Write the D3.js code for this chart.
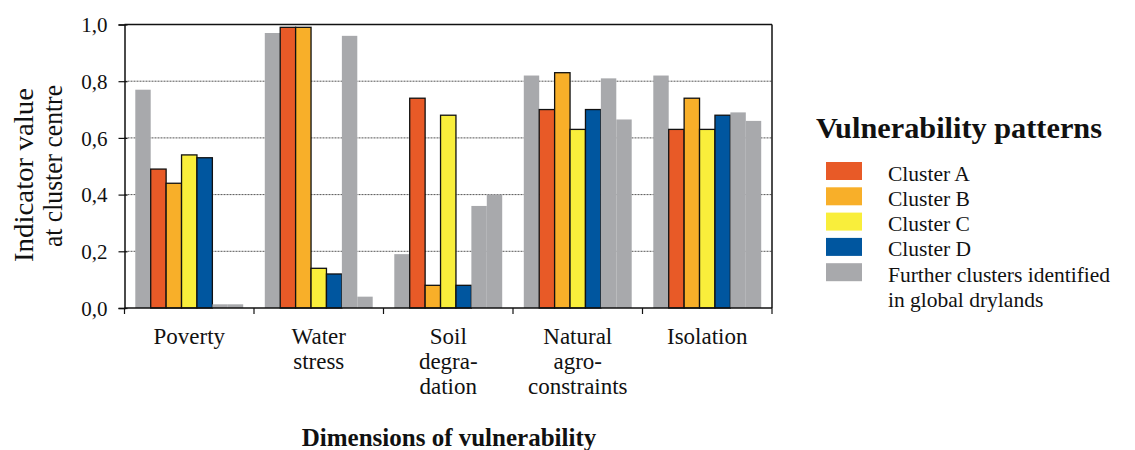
<!DOCTYPE html>
<html>
<head>
<meta charset="utf-8">
<script src="https://cdn.jsdelivr.net/npm/d3@7"></script>
<style>
  html, body { margin: 0; padding: 0; background: #fff; }
  svg { display: block; }
  text { font-family: "Liberation Serif", "Times New Roman", serif; fill: #111; }
</style>
</head>
<body>
<svg id="chart" width="1135" height="450"></svg>
<script>
// ---- data ----
const categories = [["Poverty"], ["Water", "stress"], ["Soil", "degra-", "dation"], ["Natural", "agro-", "constraints"], ["Isolation"]];
const seriesKeys = ["further1", "clusterA", "clusterB", "clusterC", "clusterD", "further2", "further3"];
const further1 = [0.77, 0.97, 0.19, 0.82, 0.82];
const clusterA = [0.49, 0.99, 0.74, 0.70, 0.63];
const clusterB = [0.44, 0.99, 0.08, 0.83, 0.74];
const clusterC = [0.54, 0.14, 0.68, 0.63, 0.63];
const clusterD = [0.53, 0.12, 0.08, 0.70, 0.68];
const further2 = [0.013, 0.96, 0.36, 0.81, 0.69];
const further3 = [0.013, 0.04, 0.40, 0.665, 0.66];
const yTicks = [0, 0.2, 0.4, 0.6, 0.8, 1.0];
const legendLabels = [["Cluster A"], ["Cluster B"], ["Cluster C"], ["Cluster D"], ["Further clusters identified", "in global drylands"]];

const values = { further1, clusterA, clusterB, clusterC, clusterD, further2, further3 };
const colors = {
  clusterA: "#E85A27", clusterB: "#F8AF29", clusterC: "#F9EE3B", clusterD: "#00569F",
  further1: "#A8A9AC", further2: "#A8A9AC", further3: "#A8A9AC"
};
const outlined = { clusterA: true, clusterB: true, clusterC: true, clusterD: true };
const legendKeys = ["clusterA", "clusterB", "clusterC", "clusterD", "further1"];

// ---- layout ----
const svg = d3.select("#chart");
const pLeft = 124.5, pRight = 772, pTop = 24.5, pBottom = 308;

const x0 = d3.scaleBand().domain(d3.range(categories.length)).range([pLeft, pRight]).paddingInner(0).paddingOuter(0);
const x1 = d3.scaleBand().domain(seriesKeys).range([0, x0.bandwidth()]).paddingInner(0).paddingOuter(0.7);
const y = d3.scaleLinear().domain([0, 1]).range([pBottom, pTop]);

// gridlines
svg.append("g").selectAll("line").data(yTicks.filter(t => t > 0 && t < 1)).join("line")
  .attr("x1", pLeft).attr("x2", pRight)
  .attr("y1", d => y(d)).attr("y2", d => y(d))
  .attr("stroke", "#555").attr("stroke-width", 1).attr("stroke-dasharray", "2,1");

// bars
const groups = svg.append("g").selectAll("g").data(categories).join("g")
  .attr("transform", (d, i) => `translate(${x0(i)},0)`);
groups.each(function (cat, i) {
  const g = d3.select(this);
  seriesKeys.forEach(k => {
    const v = values[k][i];
    g.append("rect")
      .attr("x", x1(k)).attr("width", x1.bandwidth())
      .attr("y", y(v)).attr("height", y(0) - y(v))
      .attr("fill", colors[k])
      .attr("stroke", outlined[k] ? "#111" : "none")
      .attr("stroke-width", outlined[k] ? 1.3 : 0);
  });
});

// frame
svg.append("line").attr("x1", pLeft).attr("x2", pRight).attr("y1", pTop).attr("y2", pTop).attr("stroke", "#111").attr("stroke-width", 1.5);
svg.append("line").attr("x1", pRight).attr("x2", pRight).attr("y1", pTop).attr("y2", pBottom).attr("stroke", "#111").attr("stroke-width", 1.5);

// y axis
const yAxis = svg.append("g").attr("transform", `translate(${pLeft},0)`)
  .call(d3.axisLeft(y).tickValues(yTicks).tickSize(6).tickPadding(11)
    .tickFormat(d => d3.format(".1f")(d).replace(".", ",")));
yAxis.attr("font-family", null).attr("font-size", null);
yAxis.select(".domain").attr("stroke", "#111").attr("stroke-width", 1.5);
yAxis.selectAll(".tick line").attr("stroke", "#111").attr("stroke-width", 1.2).attr("x2", -6).attr("x1", 3);
yAxis.selectAll(".tick text").attr("font-size", 21).attr("fill", "#111").attr("dy", "0.34em");

// x axis
const boundaries = d3.range(categories.length + 1).map(i => pLeft + i * x0.step());
const xAxis = svg.append("g");
xAxis.append("line").attr("x1", pLeft).attr("x2", pRight).attr("y1", pBottom).attr("y2", pBottom).attr("stroke", "#111").attr("stroke-width", 1.5);
xAxis.selectAll("line.t").data(boundaries).join("line").attr("class", "t")
  .attr("x1", d => d).attr("x2", d => d).attr("y1", pBottom).attr("y2", pBottom + 6)
  .attr("stroke", "#111").attr("stroke-width", 1.2);

// category labels
const catLabels = svg.append("g").selectAll("text").data(categories).join("text")
  .attr("text-anchor", "middle").attr("font-size", 23)
  .attr("transform", (d, i) => `translate(${x0(i) + x0.bandwidth() / 2},344)`);
catLabels.selectAll("tspan").data(d => d).join("tspan")
  .attr("x", 0).attr("y", (d, j) => j * 25).text(d => d);

// axis titles
svg.append("text").attr("x", 449).attr("y", 446).attr("text-anchor", "middle")
  .attr("font-size", 25).attr("font-weight", "bold").text("Dimensions of vulnerability");
const yt = svg.append("g").attr("transform", "rotate(-90)").attr("font-size", 27);
yt.append("text").attr("x", -175).attr("y", 33).attr("text-anchor", "middle")
  .attr("textLength", 174).attr("lengthAdjust", "spacingAndGlyphs").text("Indicator value");
yt.append("text").attr("x", -166).attr("y", 62).attr("text-anchor", "middle")
  .attr("textLength", 162).attr("lengthAdjust", "spacingAndGlyphs").text("at cluster centre");

// legend
const legend = svg.append("g");
legend.append("text").attr("x", 816).attr("y", 138).attr("font-size", 29).attr("font-weight", "bold")
  .attr("textLength", 286).attr("lengthAdjust", "spacingAndGlyphs").text("Vulnerability patterns");
const items = legend.selectAll("g.item").data(legendKeys).join("g").attr("class", "item")
  .attr("transform", (d, i) => `translate(826,${162 + i * 25.3})`);
items.append("rect").attr("width", 36).attr("height", 18).attr("fill", d => colors[d]);
const lt = items.append("text").attr("x", 62).attr("y", 18.5).attr("font-size", 21.5);
lt.selectAll("tspan").data((d, i) => legendLabels[i]).join("tspan")
  .attr("x", 62).attr("y", (d, j) => 18.5 + j * 25.3).text(d => d);
</script>
</body>
</html>
